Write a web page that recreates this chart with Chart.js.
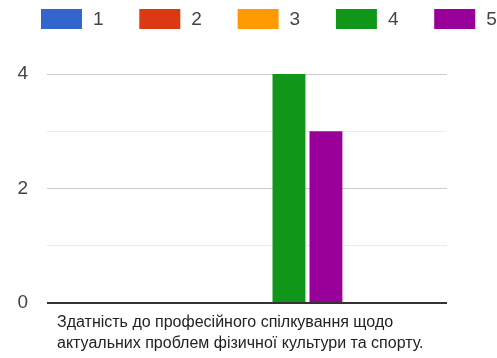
<!DOCTYPE html>
<html>
<head>
<meta charset="utf-8">
<script src="https://cdn.jsdelivr.net/npm/chart.js@4.4.1/dist/chart.umd.min.js"></script>
<style>
  html, body { margin: 0; padding: 0; background: #fff; }
  #wrap { width: 497px; height: 358px; }
</style>
</head>
<body>
<div id="wrap"><canvas id="chart" width="497" height="358"></canvas></div>
<script>
// data
const categoryLines = [['Здатність до професійного спілкування щодо', 'актуальних проблем фізичної культури та спорту.']];
const seriesNames = ['1', '2', '3', '4', '5'];
const series1 = [0];
const series2 = [0];
const series3 = [0];
const series4 = [4];
const series5 = [3];
const yTicks = [0, 2, 4];

const colors = ['#3366cc', '#dc3912', '#ff9900', '#109618', '#990099'];
const fontFamily = 'Arial, "Liberation Sans", sans-serif';

// legend drawn on top, spread like the original
const topLegend = {
    id: 'topLegend',
    afterDraw(chart) {
        const ctx = chart.ctx;
        ctx.save();
        ctx.font = '19px ' + fontFamily;
        ctx.textBaseline = 'middle';
        chart.data.datasets.forEach((ds, i) => {
            const x = 41 + i * 98.3;
            ctx.fillStyle = ds.backgroundColor;
            ctx.fillRect(x, 9, 41, 20);
            ctx.fillStyle = '#444';
            ctx.fillText(ds.label, x + 52, 19.5);
        });
        ctx.restore();
    }
};

const allSeries = [series1, series2, series3, series4, series5];

const chart = new Chart(document.getElementById('chart'), {
    type: 'bar',
    data: {
        labels: categoryLines.map(l => l.join(' ')),
        datasets: allSeries.map((s, i) => ({
            label: seriesNames[i],
            data: s,
            backgroundColor: colors[i],
            borderWidth: 0,
            categoryPercentage: 0.474,
            barPercentage: 0.89
        }))
    },
    options: {
        responsive: false,
        animation: false,
        layout: { padding: { top: 74, left: 0, right: 50, bottom: 4 } },
        plugins: {
            legend: { display: false },
            tooltip: { enabled: false }
        },
        scales: {
            x: {
                grid: { display: false, drawTicks: false },
                border: { display: false },
                ticks: { display: false },
                title: {
                    display: true,
                    text: categoryLines[0],
                    align: 'start',
                    color: '#222',
                    font: { family: fontFamily, size: 16, lineHeight: '21px' },
                    padding: { top: 9, bottom: 0 }
                }
            },
            y: {
                min: 0,
                max: 4,
                border: { display: false },
                afterFit(scale) { scale.width = 57; },
                ticks: {
                    stepSize: 1,
                    padding: 19,
                    color: '#444',
                    font: { family: fontFamily, size: 19 },
                    callback: v => yTicks.includes(v) ? String(v) : ''
                },
                grid: {
                    tickLength: 10,
                    color: c => c.tick.value === 0 ? '#333' : (yTicks.includes(c.tick.value) ? '#ccc' : '#ebebeb'),
                    lineWidth: c => c.tick.value === 0 ? 2 : 1
                }
            }
        }
    },
    plugins: [topLegend]
});
</script>
</body>
</html>
